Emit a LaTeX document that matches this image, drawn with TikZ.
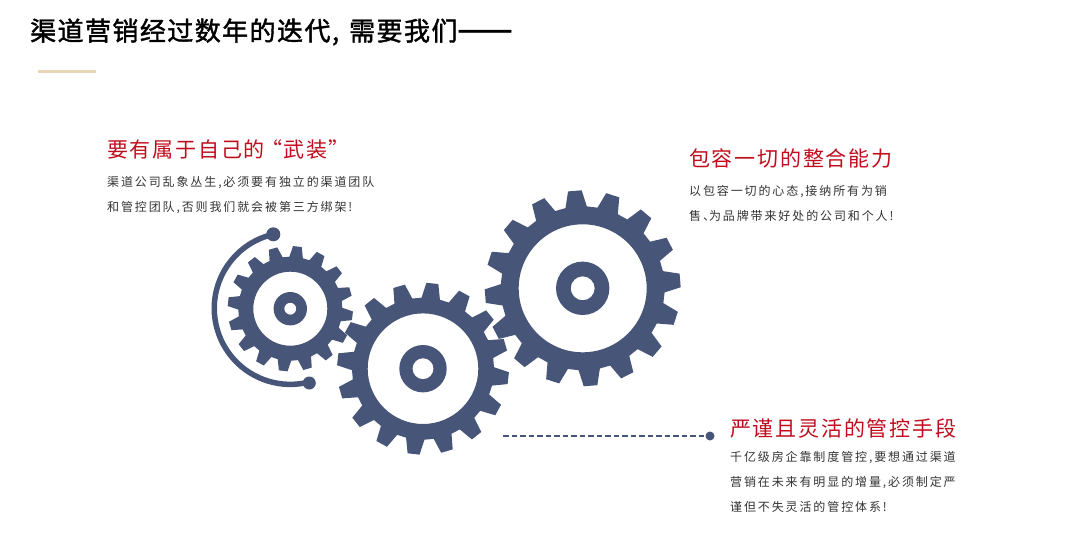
\documentclass[tikz,border=0pt]{standalone}
\usepackage{fontspec}
\usetikzlibrary{positioning}
\newfontfamily\titlefont[LetterSpace=5.5,FakeBold=1.5]{Noto Sans CJK SC}
\newfontfamily\headfont[LetterSpace=8.5]{Noto Sans CJK SC}
\newfontfamily\bodyfont[LetterSpace=15.7]{Noto Sans CJK SC}
\definecolor{gearblue}{HTML}{475678}
\definecolor{headred}{HTML}{C00D1E}
\definecolor{barsand}{HTML}{E8D5B5}
\definecolor{bodygrey}{HTML}{333333}

% center x, center y, phase, root, tip, rim, hub, bore
\newcommand{\gearshape}[8]{
  \fill[gearblue, even odd rule, shift={(#1,#2)}]
    (#3-7.5:#4)
    \foreach \t in {0,...,15} {
      -- ({#3+22.5*\t-7.5}:#4) -- ({#3+22.5*\t-4}:#5) -- ({#3+22.5*\t+4}:#5) -- ({#3+22.5*\t+7.5}:#4)
    } -- cycle
    (0,0) circle (#6)
    (0,0) circle (#7)
    (0,0) circle (#8);
}

\tikzset{
  head/.style={anchor=west, text=headred, inner sep=0pt, font=\headfont\fontsize{21}{25}\selectfont},
  body/.style={anchor=north west, align=left, text=bodygrey, inner sep=0pt, font=\bodyfont\fontsize{12}{25}\selectfont},
  enddot/.style={circle, fill=gearblue, inner sep=0pt, minimum size=#1}
}

\begin{document}
\begin{tikzpicture}[x=1pt,y=1pt]
  \useasboundingbox (0,0) rectangle (1080,-546);

  \node[anchor=west, inner sep=0pt, font=\titlefont\fontsize{26}{30}\selectfont] (title) at (30,-32)
    {渠道营销经过数年的迭代,\kern10pt 需要我们{\fontsize{33}{30}\selectfont ——}};
  \coordinate (barleft) at (38,-71);
  \coordinate (barright) at (96,-71);
  \draw[barsand, line width=3pt] (barleft) -- (barright);

  % gears
  \gearshape{290.3}{-308.7}{16}{52}{62.7}{37}{16.7}{6}
  \gearshape{423}{-368.7}{16.2}{71}{86}{55.3}{23.7}{10.5}
  \gearshape{582.7}{-288.3}{4.6}{82}{98}{64}{26.7}{12}

  % arc round the small gear
  \node[enddot=14pt] (arcstart) at (273.3,-234.3) {};
  \node[enddot=13pt] (arcend)   at (309.3,-383) {};
  \draw[gearblue, line width=5.5pt] (arcstart.center) arc[start angle=102.9, end angle=284.3, radius=76];

  % dashed leader
  \coordinate (leadstart) at (503,-436);
  \node[enddot=9pt] (leaddot) at (710,-436) {};
  \draw[gearblue, line width=2.5pt, dash pattern=on 5.5pt off 3pt] (leadstart) -- (leaddot);

  \node[head] (armhead) at (107,-149) {要有属于自己的\kern-3pt“\kern1pt 武装\kern1pt”};
  \node[body] (armbody) [below=17.5pt of armhead.south west, anchor=north west]
    {渠道公司乱象丛生,必须要有独立的渠道团队\\和管控团队,否则我们就会被第三方绑架!};

  \node[head] (fithead) at (689,-158) {包容一切的整合能力};
  \node[body] (fitbody) [below=17pt of fithead.south west, anchor=north west]
    {以包容一切的心态,接纳所有为销\\售、\kern-6pt 为品牌带来好处的公司和个人!};

  \node[head] (ctlhead) at (730,-429) {严谨且灵活的管控手段};
  \node[body] (ctlbody) [below=12.5pt of ctlhead.south west, anchor=north west]
    {千亿级房企靠制度管控,要想通过渠道\\营销在未来有明显的增量,必须制定严\\谨但不失灵活的管控体系!};
\end{tikzpicture}
\end{document}
